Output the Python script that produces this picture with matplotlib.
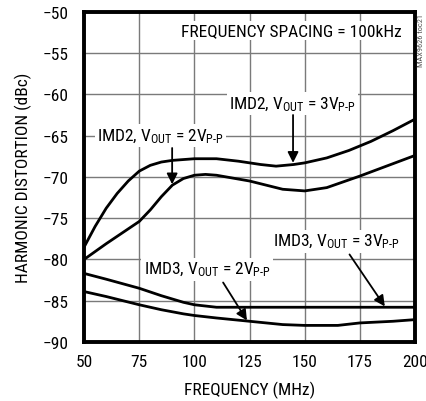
import matplotlib
matplotlib.use("Agg")
import matplotlib.pyplot as plt

plt.rcParams['font.family'] = ['Roboto Condensed', 'Liberation Sans', 'DejaVu Sans']
plt.rcParams['mathtext.fontset'] = 'custom'
plt.rcParams['mathtext.rm'] = 'Roboto Condensed'
plt.rcParams['mathtext.it'] = 'Roboto Condensed'

# data
freq_imd2_3v = [50, 55, 60, 65, 70, 75, 80, 85, 90, 100, 110, 120, 130, 137, 145, 150, 160, 170, 180, 190, 200]
imd2_3v = [-78.5, -76.0, -73.8, -72.0, -70.5, -69.3, -68.6, -68.2, -68.0, -67.8, -67.8, -68.1, -68.5, -68.7,
           -68.5, -68.3, -67.7, -66.8, -65.7, -64.4, -63.0]

freq_imd2_2v = [50, 60, 70, 75, 80, 85, 90, 95, 100, 105, 110, 125, 140, 150, 160, 175, 190, 200]
imd2_2v = [-80.0, -78.1, -76.3, -75.4, -74.0, -72.4, -71.0, -70.2, -69.8, -69.7, -69.8, -70.5, -71.5, -71.7,
           -71.3, -69.9, -68.4, -67.4]

freq_imd3_3v = [50, 60, 75, 85, 95, 100, 110, 125, 150, 175, 200]
imd3_3v = [-81.7, -82.4, -83.5, -84.4, -85.2, -85.5, -85.8, -85.8, -85.8, -85.8, -85.8]

freq_imd3_2v = [50, 60, 75, 85, 95, 100, 110, 125, 140, 150, 165, 175, 190, 200]
imd3_2v = [-83.9, -84.5, -85.5, -86.1, -86.6, -86.8, -87.1, -87.5, -87.9, -88.0, -88.0, -87.7, -87.5, -87.3]

x_ticks = [50, 75, 100, 125, 150, 175, 200]
y_ticks = [-90, -85, -80, -75, -70, -65, -60, -55, -50]

fig = plt.figure(figsize=(4.27, 4.02), dpi=100)
ax = fig.add_axes([0.197, 0.147, 0.775, 0.821])

for f, v in [(freq_imd2_3v, imd2_3v), (freq_imd2_2v, imd2_2v),
             (freq_imd3_3v, imd3_3v), (freq_imd3_2v, imd3_2v)]:
    ax.plot(f, v, color='black', lw=2.0, zorder=4, solid_capstyle='butt')

ax.set_xlim(50, 200)
ax.set_ylim(-90, -50)
ax.set_xticks(x_ticks)
ax.set_yticks(y_ticks)
ax.grid(True, color='#7a7a7a', lw=1.0, zorder=1)
ax.set_axisbelow(True)
ax.tick_params(length=0, labelsize=12.5)
ax.tick_params(axis='y', pad=11)
ax.tick_params(axis='x', pad=9)
for s in ax.spines.values():
    s.set_linewidth(2.8)
    s.set_zorder(6)

ax.set_xlabel("FREQUENCY (MHz)", fontsize=12.5, labelpad=8)
ax.set_ylabel("HARMONIC DISTORTION (dBc)", fontsize=12.5, labelpad=8)

box = dict(facecolor='white', edgecolor='none', pad=1.5)
ax.text(194, -52.3, "FREQUENCY SPACING = 100kHz", ha='right', va='center',
        fontsize=12.5, bbox=box, zorder=3)

def lab(n, v):
    return r"IMD%d, V$_{\mathrm{OUT}}$ = %dV$_{\mathrm{P\text{-}P}}$" % (n, v)

ax.text(55.8, -65.0, lab(2, 2), ha='left', va='center', fontsize=12.5, bbox=box, zorder=3)
ax.text(144.5, -61.1, lab(2, 3), ha='center', va='center', fontsize=12.5, bbox=box, zorder=3)
ax.text(105.7, -81.2, lab(3, 2), ha='center', va='center', fontsize=12.5, bbox=box, zorder=3)
ax.text(164.5, -77.8, lab(3, 3), ha='center', va='center', fontsize=12.5, bbox=box, zorder=3)

arrow = dict(arrowstyle='-|>', color='black', lw=1.3, mutation_scale=16, shrinkA=0, shrinkB=0)
ax.annotate("", xy=(89.9, -70.9), xytext=(89.9, -66.5), arrowprops=arrow, zorder=5)
ax.annotate("", xy=(144.7, -68.3), xytext=(144.7, -62.5), arrowprops=arrow, zorder=5)
ax.annotate("", xy=(123.8, -87.4), xytext=(113.0, -82.8), arrowprops=arrow, zorder=5)
ax.annotate("", xy=(186.3, -85.7), xytext=(170.3, -79.4), arrowprops=arrow, zorder=5)

fig.text(0.986, 0.965, "MAX9626 toc21", rotation=90, ha='center', va='top',
         fontsize=6, color='#555555')

fig.savefig("out.png", dpi=100)
